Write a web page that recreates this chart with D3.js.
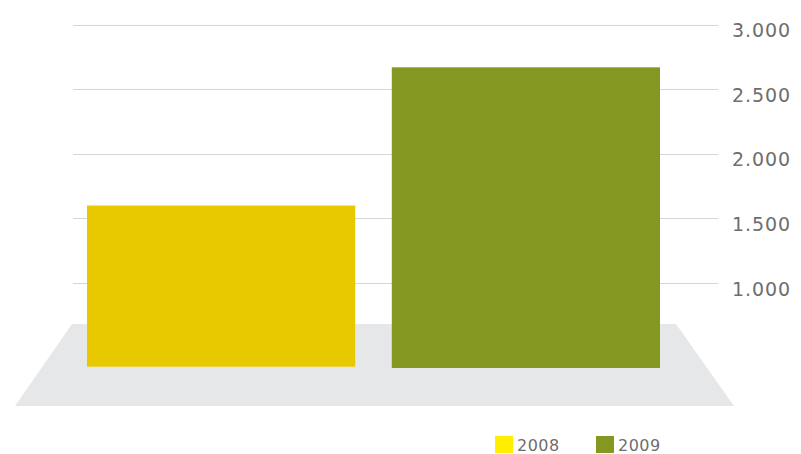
<!DOCTYPE html>
<html><head><meta charset="utf-8">
<script src="https://cdn.jsdelivr.net/npm/d3@7"></script>
<style>html,body{margin:0;padding:0;background:#fff;}svg{display:block;}</style>
</head><body>
<script>
const categories = ["2008", "2009"];
const values = [1600, 2670];
const tickValues = [1000, 1500, 2000, 2500, 3000];
const tickLabels = ["1.000", "1.500", "2.000", "2.500", "3.000"];
const barColors = ["#e8c900", "#849821"];
const legendColors = ["#ffee00", "#849821"];

const W = 801, H = 454;
const svg = d3.select("body").append("svg").attr("width", W).attr("height", H);

const y = d3.scaleLinear().domain([1000, 3000]).range([283, 24.7]);
const x = d3.scaleBand().domain(categories).range([87, 660]).paddingInner(0.12).paddingOuter(0);

// floor
svg.append("path")
  .attr("d", "M72,324 L676,324 L734,406 L15,406 Z")
  .attr("fill", "#e6e7e9");

// gridlines
svg.append("g").selectAll("line").data(tickValues).join("line")
  .attr("x1", 73).attr("x2", 718)
  .attr("y1", d => Math.round(y(d)) + 0.5).attr("y2", d => Math.round(y(d)) + 0.5)
  .attr("stroke", "#d6d6d6").attr("stroke-width", 1.2);

// tick labels
const fontFam = "'DejaVu Sans', sans-serif";
svg.append("g").selectAll("text").data(tickValues).join("text")
  .attr("x", 732).attr("y", d => y(d) + 12.5)
  .attr("font-family", fontFam).attr("font-weight", 400)
  .attr("font-size", 19).attr("letter-spacing", 0.9)
  .attr("fill", "#6e6e6e")
  .text((d, i) => tickLabels[i]);

// bars
const baseY = [366.7, 368];
svg.append("g").selectAll("rect").data(values).join("rect")
  .attr("x", (d, i) => x(categories[i]))
  .attr("width", x.bandwidth())
  .attr("y", d => y(d))
  .attr("height", (d, i) => baseY[i] - y(d))
  .attr("fill", (d, i) => barColors[i]);

// legend
const lg = svg.append("g");
const legX = [495, 596];
categories.forEach((c, i) => {
  lg.append("rect").attr("x", legX[i]).attr("y", 436).attr("width", 18).attr("height", 17).attr("fill", legendColors[i]);
  lg.append("text").attr("x", legX[i] + 22).attr("y", 450.5)
    .attr("font-family", fontFam).attr("font-weight", 400)
    .attr("font-size", 16).attr("letter-spacing", 0.5)
    .attr("fill", "#6e6e6e").text(c);
});
</script>
</body></html>
